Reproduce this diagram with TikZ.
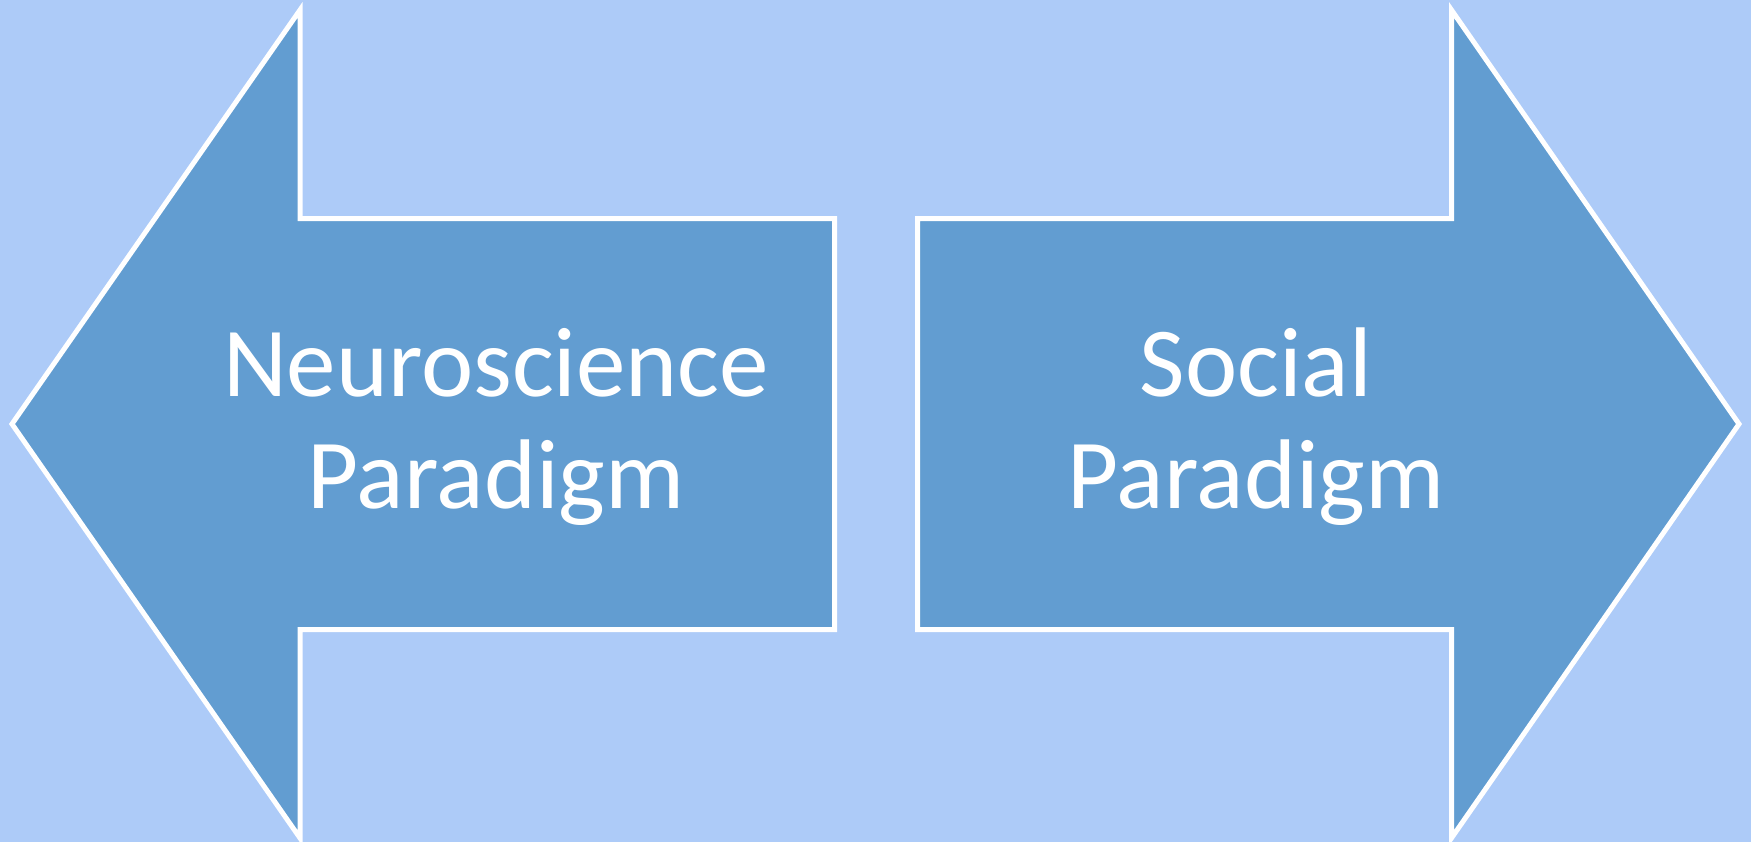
\documentclass[tikz,border=0pt]{standalone}
\usepackage{fontspec}
\setmainfont{Carlito}
\definecolor{bgblue}{RGB}{173,203,248}
\definecolor{arrowblue}{RGB}{98,157,209}
\begin{document}
\begin{tikzpicture}[x=0.5pt,y=-0.5pt,
  bigarrow/.style={fill=arrowblue,draw=white,line width=2.5pt,line join=miter},
  label/.style={text=white,font=\fontsize{49.5pt}{56pt}\selectfont,anchor=base,inner sep=0pt}]
  \useasboundingbox[fill=bgblue] (0,0) rectangle (1751,842);
  % left-pointing arrow
  \draw[bigarrow] (12,424) -- (300,10) -- (300,218.5) -- (834.5,218.5)
    -- (834.5,629.5) -- (300,629.5) -- (300,838) -- cycle;
  % right-pointing arrow
  \draw[bigarrow] (1739,424) -- (1451.5,10) -- (1451.5,218.5) -- (917.5,218.5)
    -- (917.5,629.5) -- (1451.5,629.5) -- (1451.5,838) -- cycle;
  % labels
  \node[label] (neuro) at (496,396.5) {Neuroscience};
  \node[label] (neuropar) at (496,508) {Paradigm};
  \node[label] (social) at (1256,396.5) {Social};
  \node[label] (socialpar) at (1256,508) {Paradigm};
\end{tikzpicture}
\end{document}
